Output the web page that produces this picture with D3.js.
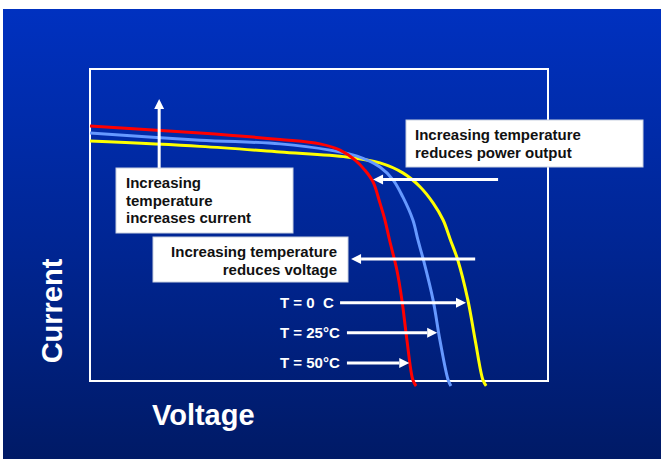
<!DOCTYPE html>
<html>
<head>
<meta charset="utf-8">
<script src="https://cdn.jsdelivr.net/npm/d3@7"></script>
<style>
  html, body { margin: 0; padding: 0; background: #ffffff; }
  svg { display: block; }
  text { font-family: "Liberation Sans", Arial, sans-serif; font-weight: bold; white-space: pre; }
</style>
</head>
<body>
<svg id="chart" width="661" height="459"></svg>
<script>
// I-V characteristic of a PV module at three cell temperatures
// voltage and current in relative units (0-100 of the plotted range)
const seriesNames = ["T = 50°C", "T = 25°C", "T = 0  C"];
const seriesColors = ["#ff0000", "#6699ff", "#ffff00"];

const voltage50 = [0, 24.0, 41.5, 50.2, 54.6, 57.9, 60.0, 61.8, 63.3, 64.4, 65.4, 67.0, 68.1, 69.2, 70.5, 71.2];
const current50 = [81.7, 79.5, 77.4, 76.0, 74.0, 70.8, 67.6, 63.8, 57.1, 51.6, 45.2, 35.6, 26.0, 13.1, 0.3, -1.6];

const voltage25 = [0, 24.0, 41.5, 52.4, 58.3, 63.3, 66.2, 68.3, 70.5, 71.6, 72.8, 74.9, 76.4, 78.2, 78.8];
const current25 = [79.5, 77.2, 76.0, 74.0, 72.1, 68.6, 64.4, 59.0, 51.6, 45.2, 38.8, 26.0, 13.1, 0.3, -1.6];

const voltage0 = [0, 24.0, 41.5, 56.1, 63.3, 68.3, 72.1, 74.9, 77.1, 78.7, 80.3, 82.5, 84.1, 85.8, 86.5];
const current0 = [76.9, 75.2, 73.4, 71.8, 69.9, 66.7, 62.2, 57.1, 51.6, 45.2, 38.8, 26.0, 13.1, 0.3, -1.6];

const axisTitleX = "Voltage";
const axisTitleY = "Current";

const svg = d3.select("#chart");
const W = 661, H = 459;
const plot = { left: 90, right: 548, top: 69, bottom: 381 };

const x = d3.scaleLinear().domain([0, 100]).range([plot.left, plot.right]);
const y = d3.scaleLinear().domain([0, 100]).range([plot.bottom, plot.top]);

// slide background
const defs = svg.append("defs");
const grad = defs.append("linearGradient").attr("id", "bg").attr("x1", 0).attr("y1", 0).attr("x2", 0).attr("y2", 1);
grad.append("stop").attr("offset", "0%").attr("stop-color", "#0031c0");
grad.append("stop").attr("offset", "55%").attr("stop-color", "#002591");
grad.append("stop").attr("offset", "100%").attr("stop-color", "#001a66");
svg.append("rect").attr("x", 3).attr("y", 9).attr("width", W - 3).attr("height", H - 9).attr("fill", "url(#bg)");

// plot frame
svg.append("rect")
  .attr("x", plot.left).attr("y", plot.top)
  .attr("width", plot.right - plot.left).attr("height", plot.bottom - plot.top)
  .attr("fill", "none").attr("stroke", "#ffffff").attr("stroke-width", 2);

// axis titles
svg.append("text").attr("x", 152).attr("y", 425).attr("fill", "#ffffff")
  .attr("font-size", 29).text(axisTitleX);
svg.append("text").attr("transform", "translate(62,311) rotate(-90)")
  .attr("text-anchor", "middle").attr("fill", "#ffffff")
  .attr("font-size", 29).text(axisTitleY);

// annotation boxes
function noteBox(bx, by, bw, bh, lines, tx, ty0, lh, anchor) {
  svg.append("rect").attr("x", bx).attr("y", by).attr("width", bw).attr("height", bh)
    .attr("fill", "#ffffff").attr("stroke", "#c8d0e0").attr("stroke-width", 1);
  lines.forEach((t, i) => {
    svg.append("text").attr("x", tx).attr("y", ty0 + i * lh)
      .attr("text-anchor", anchor).attr("fill", "#111111").attr("font-size", 15).text(t);
  });
}
noteBox(116, 168, 177, 65, ["Increasing", "temperature", "increases current"], 126, 188, 17.5, "start");
noteBox(153, 237, 195, 45, ["Increasing temperature", "reduces voltage"], 337, 257, 17.5, "end");
noteBox(406, 120, 237, 47, ["Increasing temperature", "reduces power output"], 415, 140, 18, "start");

// curves
const curves = [
  { name: seriesNames[0], color: seriesColors[0], v: voltage50, c: current50 },
  { name: seriesNames[1], color: seriesColors[1], v: voltage25, c: current25 },
  { name: seriesNames[2], color: seriesColors[2], v: voltage0, c: current0 }
];
const line = d3.line().x(d => x(d[0])).y(d => y(d[1])).curve(d3.curveCatmullRom.alpha(0.5));
svg.append("g").selectAll("path").data(curves.slice().reverse()).join("path")
  .attr("d", s => line(s.v.map((v, i) => [v, s.c[i]])))
  .attr("fill", "none").attr("stroke", s => s.color).attr("stroke-width", 3);

// arrows (in data units)
function arrow(v1, c1, v2, c2) {
  const x1 = x(v1), y1 = y(c1), x2 = x(v2), y2 = y(c2);
  const a = Math.atan2(y2 - y1, x2 - x1);
  const L = 10, hw = 5;
  const bx = x2 - L * Math.cos(a), by = y2 - L * Math.sin(a);
  svg.append("line").attr("x1", x1).attr("y1", y1).attr("x2", bx).attr("y2", by)
    .attr("stroke", "#ffffff").attr("stroke-width", 3);
  svg.append("path")
    .attr("d", `M${x2},${y2}L${bx + hw * Math.sin(a)},${by - hw * Math.cos(a)}L${bx - hw * Math.sin(a)},${by + hw * Math.cos(a)}Z`)
    .attr("fill", "#ffffff");
}
arrow(15.1, 68.3, 15.1, 90.4);
arrow(89.1, 64.6, 61.8, 64.6);
arrow(84.1, 39.1, 57.0, 39.1);

// temperature labels with pointers to each curve
const labelRows = [
  { text: seriesNames[2], c: 25.1, from: 54.6, to: 82.1 },
  { text: seriesNames[1], c: 15.5, from: 56.1, to: 75.8 },
  { text: seriesNames[0], c: 5.8, from: 56.1, to: 69.7 }
];
labelRows.forEach(r => {
  svg.append("text").attr("x", 280).attr("y", y(r.c) + 5.5).attr("fill", "#ffffff")
    .attr("font-size", 15).text(r.text);
  arrow(r.from, r.c, r.to, r.c);
});
</script>
</body>
</html>
